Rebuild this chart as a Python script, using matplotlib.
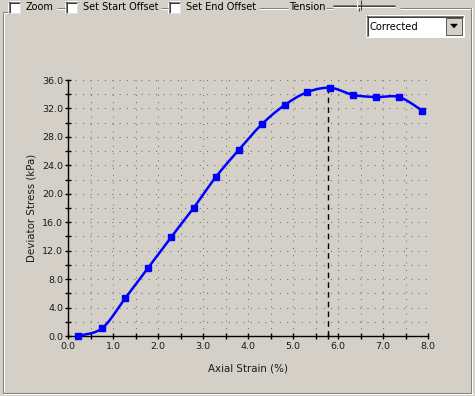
import numpy as np
import matplotlib
matplotlib.use("Agg")
import matplotlib.pyplot as plt
from matplotlib.patches import Rectangle, Polygon
from matplotlib.ticker import MultipleLocator, FormatStrFormatter

# ---- data ----
strain = [0.22, 0.76, 1.27, 1.78, 2.29, 2.79, 3.29, 3.80, 4.31, 4.82, 5.32, 5.83, 6.34, 6.85, 7.36, 7.87]
stress = [0.0, 1.1, 5.3, 9.6, 13.9, 18.0, 22.4, 26.2, 29.8, 32.5, 34.3, 34.9, 33.9, 33.6, 33.6, 31.7]
peak_strain = 5.78
peak_stress = 34.9
combo_text = "Corrected"
checkbox_labels = ["Zoom", "Set Start Offset", "Set End Offset"]
tension_label = "Tension"
xlabel = "Axial Strain (%)"
ylabel = "Deviator Stress (kPa)"

BG = "#D4D0C8"
W, H = 475, 396

plt.rcParams['font.family'] = ['DejaVu Sans']

fig = plt.figure(figsize=(W / 100, H / 100), dpi=100, facecolor=BG)

# ---- UI overlay in pixel coordinates ----
ui = fig.add_axes([0, 0, 1, 1], zorder=0)
ui.set_xlim(0, W)
ui.set_ylim(H, 0)
ui.axis("off")
ui.set_facecolor(BG)

def hline(x0, x1, y, c, lw=0.75):
    ui.plot([x0, x1], [y, y], color=c, lw=lw, solid_capstyle="butt")

def vline(x, y0, y1, c, lw=0.75):
    ui.plot([x, x], [y0, y1], color=c, lw=lw, solid_capstyle="butt")

GRAY, WHITE, DARK = "#808080", "#FFFFFF", "#404040"
# group box frame
hline(2.5, 8, 11.5, GRAY)
hline(3.5, 8, 12.5, WHITE)
for a, b in [(57, 65), (161, 168), (259, 288), (326, 333), (400, 471)]:
    hline(a, b, 7.5, GRAY)
    hline(a, b, 8.5, WHITE)
vline(2.5, 11.5, 392.5, GRAY)
vline(3.5, 12.5, 391.5, WHITE)
hline(2.5, 471.5, 392.5, GRAY)
hline(2.5, 472.5, 393.5, WHITE)
vline(470.5, 7.5, 392.5, GRAY)
vline(471.5, 7.5, 393.5, WHITE)

# checkboxes (sunken white boxes)
cb_x = [8, 65, 168]
for cx, lab in zip(cb_x, checkbox_labels):
    ui.add_patch(Rectangle((cx, 1), 13, 13, facecolor="white", edgecolor="none"))
    hline(cx, cx + 13, 1.5, GRAY)
    vline(cx + 0.5, 1, 14, GRAY)
    hline(cx + 1, cx + 12, 2.5, DARK)
    vline(cx + 1.5, 2, 13, DARK)
    hline(cx + 1, cx + 12, 12.5, "#E0E0E0")
    vline(cx + 11.5, 2, 13, "#E0E0E0")
    ui.text(cx + 18, 7.5, lab, fontsize=7.0, ha="left", va="center", color="#000000")

ui.text(289, 7.5, tension_label, fontsize=7.0, ha="left", va="center", color="#000000")
# slider track and thumb
hline(333, 395, 4.5, GRAY)
hline(333, 395, 5.5, DARK)
hline(333, 395, 6.5, WHITE)
ui.add_patch(Rectangle((356, 0), 5, 8, facecolor=BG, edgecolor="none"))
vline(356.5, 0, 9, WHITE)
vline(360.5, 0, 10, DARK)
vline(358.5, 8, 11, DARK)

# combo box
ui.add_patch(Rectangle((366, 15), 98, 22, facecolor="white", edgecolor="none"))
hline(366, 464, 15.5, GRAY)
vline(366.5, 15, 37, GRAY)
hline(367, 463, 16.5, DARK)
vline(367.5, 16, 36, DARK)
hline(366, 464, 36.5, WHITE)
vline(463.5, 15, 37, WHITE)
ui.add_patch(Rectangle((446, 18), 16, 17, facecolor=BG, edgecolor=DARK, lw=0.6))
ui.add_patch(Polygon([[450.5, 24], [457.5, 24], [454, 28]], closed=True,
                     facecolor="black", edgecolor="black", lw=0.3))
ui.text(369, 26.5, combo_text, fontsize=7.2, ha="left", va="center", color="#000000")

# ---- chart ----
ax = fig.add_axes([68 / W, 1 - 336 / H, 360 / W, 256 / H], zorder=1)
ax.set_facecolor(BG)
ax.set_xlim(0, 8)
ax.set_ylim(0, 36)

# grid (dotted) on minor steps, including the top/right frame
for gx in np.arange(0.5, 8.01, 0.5):
    ax.axvline(gx, color="#707070", lw=0.75, linestyle=(0, (1, 6)), zorder=1)
for gy in np.arange(2, 36.01, 2):
    ax.axhline(gy, color="#707070", lw=0.75, linestyle=(0, (1, 6)), zorder=1)

# smooth curve (cardinal spline through the points)
def cardinal(xs, ys, n=40, t=0.5):
    P = np.column_stack([np.asarray(xs, float), np.asarray(ys, float)])
    P = np.vstack([P[0], P, P[-1]])
    out = []
    for i in range(1, len(P) - 2):
        p0, p1, p2, p3 = P[i - 1], P[i], P[i + 1], P[i + 2]
        m1 = t * (p2 - p0)
        m2 = t * (p3 - p1)
        s = np.linspace(0, 1, n, endpoint=(i == len(P) - 3))[:, None]
        h00 = 2 * s**3 - 3 * s**2 + 1
        h10 = s**3 - 2 * s**2 + s
        h01 = -2 * s**3 + 3 * s**2
        h11 = s**3 - s**2
        out.append(h00 * p1 + h10 * m1 + h01 * p2 + h11 * m2)
    out = np.vstack(out)
    return out[:, 0], out[:, 1]

cx_, cy_ = cardinal(strain, stress)
ax.plot(cx_, cy_, color="#0000FF", lw=1.8, zorder=3, clip_on=False)
ax.plot(strain, stress, linestyle="none", marker="s", markersize=4.2,
        color="#0000FF", zorder=4, clip_on=False)

# peak marker line
ax.plot([peak_strain, peak_strain], [0, peak_stress], color="black", lw=1.0,
        linestyle=(0, (4, 3)), zorder=2)
ax.plot([peak_strain], [0], marker="|", markersize=5, color="black",
        markeredgewidth=1.0, clip_on=False, zorder=5)

ax.xaxis.set_major_locator(MultipleLocator(1.0))
ax.xaxis.set_minor_locator(MultipleLocator(0.5))
ax.yaxis.set_major_locator(MultipleLocator(4.0))
ax.yaxis.set_minor_locator(MultipleLocator(2.0))
ax.xaxis.set_major_formatter(FormatStrFormatter("%.1f"))
ax.yaxis.set_major_formatter(FormatStrFormatter("%.1f"))
ax.tick_params(which="both", direction="inout", length=5, width=1.0, color="black")
ax.tick_params(axis="both", labelsize=6.8, labelcolor="#1a1a1a")
ax.tick_params(axis="x", pad=2.0)
ax.tick_params(axis="y", pad=1.0)

for s in ["top", "right"]:
    ax.spines[s].set_visible(False)
for s in ["left", "bottom"]:
    ax.spines[s].set_color("black")
    ax.spines[s].set_linewidth(1.0)

ax.set_xlabel(xlabel, fontsize=7.4, color="#1a1a1a", labelpad=9)
ax.set_ylabel(ylabel, fontsize=7.4, color="#1a1a1a", labelpad=4)

fig.savefig("out.png", dpi=100, facecolor=BG)
